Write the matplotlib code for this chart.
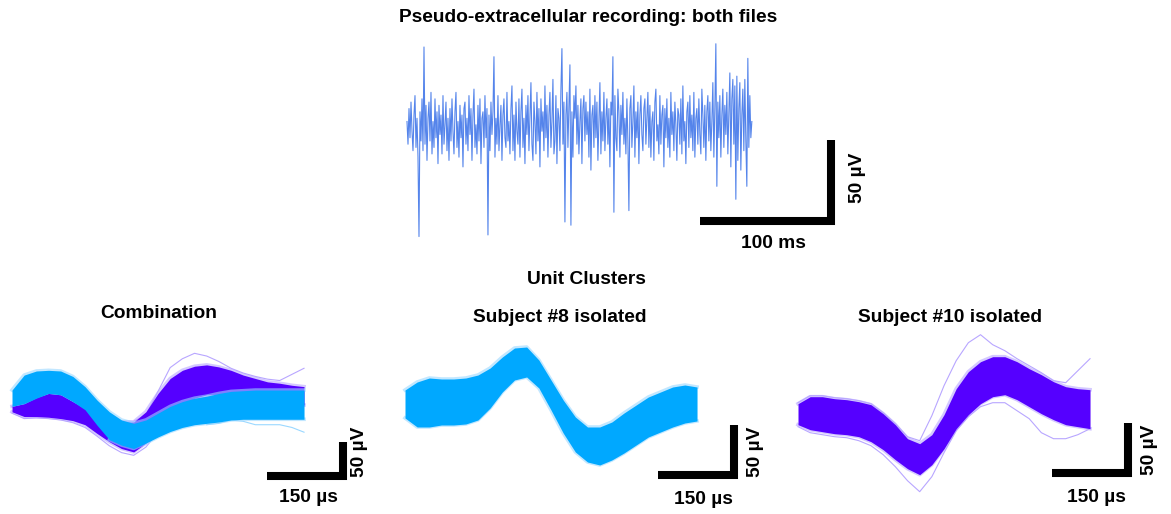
import numpy as np
import matplotlib
matplotlib.use('Agg')
import matplotlib.pyplot as plt

W, H = 1171, 514
plt.rcParams['font.family'] = ['Liberation Sans', 'DejaVu Sans']
plt.rcParams['font.weight'] = 'bold'

# pseudo-extracellular trace (uV), one value every ~0.76 ms
trace = [4, -10, 12, -6, 16, -2, -14, 8, 20, -12, 6, -18, -67, 10, -8, 18, -14, 50, -10, 14,
         -20, 6, 16, -8, 22, -16, 4, -12, 18, -6, 10, -22, 14, -4, 8, -16, 20, -10, 2, 16,
         -14, 6, -20, 12, -8, 18, -2, -16, 10, 22, -12, 4, -18, 14, -6, 8, -24, 12, 16, -10,
         6, -14, 20, -4, 12, -20, 8, 24, -12, 2, -16, 14, -8, 18, -22, 6, 10, -12, 20, -6,
         12, -66, 8, -14, 16, -4, 10, 44, -18, 6, -10, 20, -14, 2, 14, -20, 8, 18, -6, -12,
         22, -8, 4, -16, 12, 26, -14, 8, -20, 16, -2, -10, 18, -18, 10, 24, -12, 6, -22, 14,
         -4, 20, -14, 8, 28, -10, -20, 16, 4, -16, 22, -8, 12, -24, 18, -2, 10, -14, 26, -6,
         14, -18, 8, 22, -12, 4, 30, -16, -8, 20, -22, 12, 6, -14, 24, 49, -10, 16, -58, 8,
         22, -12, 14, 39, -60, 10, -18, 20, 6, 26, -10, 14, -16, 4, 18, -22, 12, 20, -8, 16,
         -4, 10, -18, 24, -26, 8, 14, -12, 20, -6, 16, -20, 4, 28, -16, 10, -8, 22, -14, 6,
         18, -10, 12, -24, 16, 8, 44, -52, 20, -6, -14, 24, 10, -18, 14, -4, 22, -10, 6, -16,
         18, -8, -51, 12, 20, -12, 4, 26, -18, 10, -6, 16, -22, 8, 20, -4, -14, 12, 18, -10,
         6, 22, -12, 14, -18, 4, 10, -20, 16, 24, -8, 2, -16, 20, -10, 8, 14, -24, 12, -6,
         18, -12, 6, -18, 22, -4, 10, -14, 16, 2, -20, 12, 8, -10, 18, -16, 26, -8, 4, -22,
         10, 16, -12, 20, -6, 8, -14, 22, -18, 6, 12, -10, 18, -4, -16, 24, 8, -12, 14, -20,
         10, 20, -8, 16, -14, 4, 28, -18, 12, 52, -36, 16, -6, 20, -18, 8, 24, -12, 14, -4,
         22, -16, 10, 34, -24, 18, 30, -10, 26, -44, 32, -20, 12, 28, -26, 8, 24, -14, 30, -8,
         -36, 43, -12, 20, -6, 4]
trace_dt = 0.763  # ms

# spike waveform envelopes (uV), 25 samples, 24 us apart
wave_dt = 24
# combination: visible cyan band (purple hump shows below it on the left)
comb_cyan_hi = [22, 44, 50, 51, 50, 42, 27, 7, -10, -22, -27, -22, -12, -2, 5, 10, 13, 17, 20, 21, 22, 22, 22, 22, 22]
comb_cyan_lo = [-2, 2, 10, 17, 15, 5, -7, -30, -51, -59, -64, -56, -47, -39, -33, -29, -27, -25, -22, -21, -21, -21, -21, -21, -21]
comb_purp_hi = [-2, 2, 11, 17, 15, 5, -5, -15, -22, -25, -25, -10, 17, 39, 51, 57, 59, 56, 51, 44, 39, 34, 32, 29, 27]
comb_purp_lo = [-10, -17, -17, -18, -20, -23, -29, -42, -54, -64, -69, -56, -37, -15, 0, 10, 15, 15, 12, 10, 7, 5, 2, 2, 0]
comb_purp_out1 = [-2, 4, 13, 19, 17, 7, -3, -13, -20, -24, -24, -15, 20, 55, 68, 76, 72, 64, 54, 47, 42, 38, 36, 45, 54]
comb_purp_out2 = [-12, -20, -19, -20, -22, -26, -33, -46, -60, -70, -74, -62, -40, -18, -2, 8, 12, 12, 10, 8, 5, 3, 0, -2, -2]
comb_cyan_out = [-12, -7, -2, 0, -2, -12, -24, -41, -53, -61, -66, -58, -49, -41, -35, -31, -29, -27, -22, -24, -29, -29, -29, -33, -40]

s8_hi = [14, 22, 26, 25, 25, 26, 29, 36, 47, 56, 57, 44, 24, 4, -13, -23, -23, -18, -9, -1, 7, 12, 17, 19, 17]
s8_lo = [-14, -23, -23, -21, -21, -20, -16, -4, 12, 24, 27, 16, -6, -29, -48, -58, -61, -56, -49, -41, -33, -28, -23, -19, -17]

s10_hi = [7, 14, 14, 12, 11, 9, 6, -3, -14, -28, -33, -24, -4, 22, 39, 49, 54, 54, 49, 42, 36, 29, 24, 22, 21]
s10_lo = [-14, -19, -21, -23, -24, -26, -31, -39, -49, -58, -64, -54, -38, -18, -4, 7, 14, 16, 11, 4, -3, -9, -14, -16, -18]
s10_out1 = [8, 15, 15, 13, 12, 10, 7, -2, -13, -26, -30, -5, 25, 50, 68, 76, 66, 60, 52, 45, 38, 30, 28, 40, 52]
s10_out2 = [-16, -22, -24, -26, -27, -30, -35, -44, -56, -70, -81, -66, -42, -20, -6, 4, 8, 8, 0, -8, -22, -28, -28, -24, -18]

CYAN = '#00A8FF'
PURP = '#5500FF'
CYAN_L = '#9AD8FF'
PURP_L = '#B8A6FF'
TRACE = '#2A66E6'


def px_axes(fig, box, x0, base, sx, sy):
    # box = (left, top, right, bottom) in pixels, x0/base = pixel of data zero
    l, t, r, b = box
    ax = fig.add_axes([l / W, 1 - b / H, (r - l) / W, (b - t) / H])
    ax.set_xlim((l - x0) / sx, (r - x0) / sx)
    ax.set_ylim((base - b) / sy, (base - t) / sy)
    ax.axis('off')
    return ax


def scalebar(ax, xc, yc, xlen, ylen):
    ax.plot([xc - xlen, xc, xc], [yc, yc, yc + ylen], color='black', lw=5.8,
            solid_capstyle='butt', solid_joinstyle='miter', zorder=5)


def cluster(ax, t, lo, hi, c, cl, z=1):
    # soft rim of the outermost traces, then the dense core
    ax.plot(t, hi, color=cl, lw=2.6, alpha=0.6, zorder=z)
    ax.plot(t, lo, color=cl, lw=2.6, alpha=0.6, zorder=z)
    ax.fill_between(t, lo, hi, color=c, lw=0, zorder=z + 0.5)


def ftext(fig, x, y, s, **kw):
    fig.text(x / W, 1 - y / H, s, ha='center', va='center', fontsize=13.8,
             fontweight='bold', **kw)


fig = plt.figure(figsize=(W / 100, H / 100), dpi=100)

# top recording
ax = px_axes(fig, (395, 35, 900, 262), 407, 128, 1.31, 1.62)
tt = np.arange(len(trace)) * trace_dt
ax.plot(tt, trace, color=TRACE, lw=0.8, alpha=0.8)
scalebar(ax, 323.7, -57.4, 100, 50)
ftext(fig, 588, 18, 'Pseudo-extracellular recording: both files')
ftext(fig, 773, 243, '100 ms')
ftext(fig, 858, 178, '50 µV', rotation=90)
ftext(fig, 586, 280, 'Unit Clusters')

tw = np.arange(len(s8_hi)) * wave_dt

# combination
ax = px_axes(fig, (2, 330, 380, 510), 12, 405, 0.507, 0.68)
cluster(ax, tw, comb_purp_lo, comb_purp_hi, PURP, PURP_L, z=1)
ax.plot(tw, comb_purp_out1, color=PURP_L, lw=0.8, zorder=1)
ax.plot(tw, comb_purp_out2, color=PURP_L, lw=0.8, zorder=1)
ax.plot(tw[16:], comb_cyan_out[16:], color=CYAN_L, lw=0.8, zorder=2)
ax.plot(tw, comb_cyan_hi, color=CYAN_L, lw=2.6, alpha=0.6, zorder=2)
ax.plot(tw[8:], comb_cyan_lo[8:], color=CYAN_L, lw=2.6, alpha=0.6, zorder=2)
ax.fill_between(tw, comb_cyan_lo, comb_cyan_hi, color=CYAN, lw=0, zorder=3)
scalebar(ax, 652, -104.4, 150, 50)
ftext(fig, 159, 313, 'Combination')
ftext(fig, 308, 498, '150 µs')
ftext(fig, 360, 452, '50 µV', rotation=90)

# subject 8
ax = px_axes(fig, (395, 325, 775, 510), 405, 404, 0.507, 1.0)
cluster(ax, tw, s8_lo, s8_hi, CYAN, CYAN_L)
scalebar(ax, 649, -71, 150, 50)
ftext(fig, 560, 318, 'Subject #8 isolated')
ftext(fig, 703, 499, '150 µs')
ftext(fig, 756, 452, '50 µV', rotation=90)

# subject 10
ax = px_axes(fig, (788, 325, 1168, 510), 798, 410.7, 0.507, 1.0)
cluster(ax, tw, s10_lo, s10_hi, PURP, PURP_L)
ax.plot(tw, s10_out1, color=PURP_L, lw=0.8, zorder=1)
ax.plot(tw, s10_out2, color=PURP_L, lw=0.8, zorder=1)
scalebar(ax, 651, -62, 150, 50)
ftext(fig, 950, 318, 'Subject #10 isolated')
ftext(fig, 1096, 498, '150 µs')
ftext(fig, 1150, 450, '50 µV', rotation=90)

fig.savefig('out.png', dpi=100)
